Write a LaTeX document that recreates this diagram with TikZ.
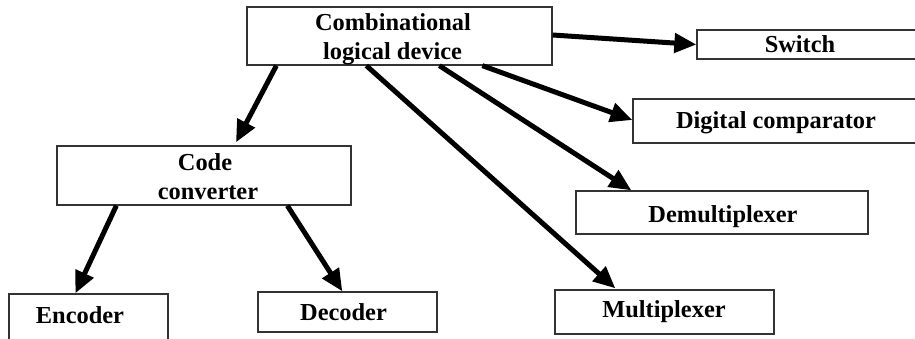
\documentclass[tikz,border=0pt]{standalone}
\usepackage{fontspec}
\setmainfont{Liberation Serif}
\usetikzlibrary{arrows.meta,calc}
\begin{document}
\begin{tikzpicture}[x=1pt,y=-1pt,
  box/.style={draw=black!80,line width=1.3pt,rectangle,inner sep=0pt},
  lbl/.style={anchor=base,inner sep=0pt,font=\fontsize{24.4}{29}\selectfont\bfseries},
  arr/.style={line width=5pt,-{Triangle[length=22pt,width=19pt]}}]
\useasboundingbox (0,0) rectangle (915,338);
\clip (0,0) rectangle (915,338);
\fill[white] (0,0) rectangle (915,338);
% boxes
\node[box,minimum width=305pt,minimum height=58pt] (main) at (399.5,36) {};
\node[box,minimum width=238pt,minimum height=29pt] (sw) at (816,44.5) {};
\node[box,minimum width=302pt,minimum height=44pt] (comp) at (784,121) {};
\node[box,minimum width=292pt,minimum height=43pt] (demux) at (722,212.5) {};
\node[box,minimum width=294pt,minimum height=59pt] (code) at (204,175.5) {};
\node[box,minimum width=159pt,minimum height=56pt] (enc) at (88.5,322) {};
\node[box,minimum width=179pt,minimum height=40pt] (dec) at (347.5,312) {};
\node[box,minimum width=219pt,minimum height=44pt] (mux) at (664.5,312) {};
% labels
\node[lbl] (t1) at (393,30) {Combinational};
\node[lbl] (t2) at (392.5,59) {logical device};
\node[lbl] (t3) at (800,52) {Switch};
\node[lbl] (t4) at (776,128) {Digital comparator};
\node[lbl] (t5) at (723,222) {Demultiplexer};
\node[lbl] (t6) at (205,170) {Code};
\node[lbl] (t7) at (208,199) {converter};
\node[lbl] (t8) at (80,323) {Encoder};
\node[lbl] (t9) at (343.5,320) {Decoder};
\node[lbl] (t10) at (664,317) {Multiplexer};
% arrows
\draw[arr] ([xshift=30pt]main.south west) -- ([xshift=32pt,yshift=3pt]code.north);
\draw[arr] ([xshift=120pt]main.south west) -- ([xshift=61pt,yshift=1pt]mux.north west);
\draw[arr] ([xshift=193pt]main.south west) -- ([xshift=56pt]demux.north west);
\draw[arr] ([xshift=236pt]main.south west) -- ([yshift=1pt]comp.west);
\draw[arr] ([yshift=1pt]main.east) -- (sw.west);
\draw[arr] ([xshift=60pt]code.south west) -- ([xshift=67pt]enc.north west);
\draw[arr] ([xshift=231pt]code.south west) -- ([xshift=85pt]dec.north west);
\end{tikzpicture}
\end{document}
